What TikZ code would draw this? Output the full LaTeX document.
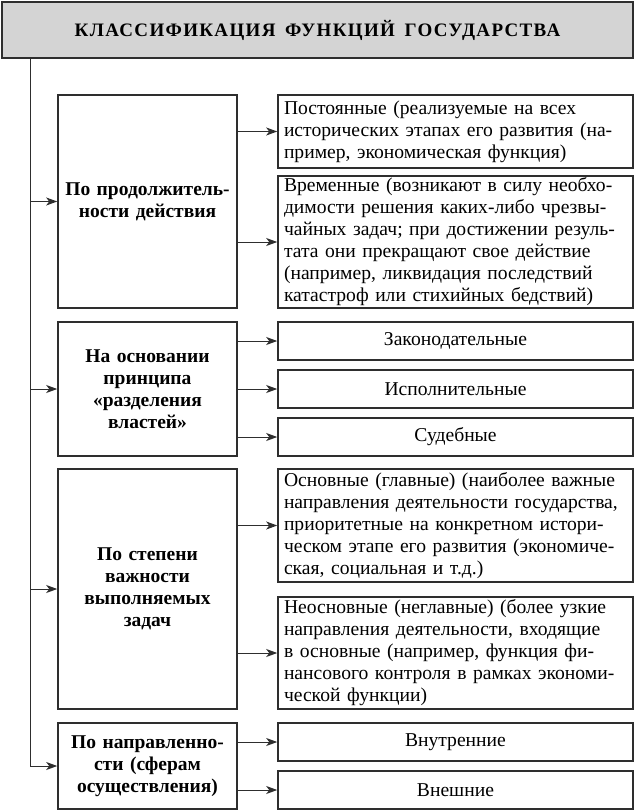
\documentclass[tikz,border=0pt]{standalone}
\usepackage{fontspec}
\setmainfont{Liberation Serif}
\newfontfamily\titlefont[LetterSpace=7,WordSpace=1.6]{Liberation Serif}
\usetikzlibrary{arrows.meta}

\definecolor{linegray}{HTML}{2E2E2E}
\definecolor{titlefill}{HTML}{D4D4D4}

\tikzset{
  titlebox/.style={draw=linegray, line width=1.6pt, fill=titlefill,
    minimum width=631pt, minimum height=56pt, inner sep=0pt,
    font=\titlefont\fontsize{19}{22}\selectfont\bfseries},
  kindbox/.style={draw=linegray, line width=1.6pt, minimum width=179pt,
    text width=165pt, inner sep=0pt, align=center,
    font=\fontsize{19.5}{22}\selectfont\bfseries},
  itembox/.style={draw=linegray, line width=1.6pt, minimum width=355pt,
    text width=343pt, inner sep=0pt, align=left,
    font=\fontsize{19.6}{22}\selectfont},
  shortbox/.style={itembox, align=center, minimum height=38pt}
}

\begin{document}
\begin{tikzpicture}[x=1pt,y=-1pt]
\useasboundingbox (0,0) rectangle (634,811);
\begin{scope}

    \node[titlebox] (T) at (317.5,30)
        {КЛАССИФИКАЦИЯ ФУНКЦИЙ ГОСУДАРСТВА};

    \node[kindbox, minimum height=213pt] (A) at (147.5,201.5)
        {По продолжитель-\\ности действия};
    \node[kindbox, minimum height=134pt] (B) at (147.5,389)
        {На основании\\принципа\\«разделения\\властей»};
    \node[kindbox, minimum height=240pt] (C) at (147.5,589)
        {По степени\\важности\\выполняемых\\задач};
    \node[kindbox, minimum height=86pt] (D) at (147.5,766)
        {По направленно-\\сти (сферам\\осуществления)};

    \node[itembox, minimum height=73pt] (A1) at (455.5,131.5)
        {Постоянные  (реализуемые на всех\\
         исторических этапах его развития (на-\\
         пример, экономическая функция)};
    \node[itembox, minimum height=132pt] (A2) at (455.5,242)
        {Временные (возникают в силу необхо-\\
         димости решения каких-либо чрезвы-\\
         чайных задач; при достижении резуль-\\
         тата они прекращают свое действие\\
         (например, ликвидация последствий\\
         катастроф или стихийных бедствий)};

    \node[shortbox] (B1) at (455.5,341) {Законодательные};
    \node[shortbox] (B2) at (455.5,389) {Исполнительные};
    \node[shortbox] (B3) at (455.5,437) {Судебные};

    \node[itembox, minimum height=113pt] (C1) at (455.5,525.5)
        {Основные (главные) (наиболее важные\\
         направления деятельности государства,\\
         приоритетные на конкретном истори-\\
         ческом этапе его развития (экономиче-\\
         ская, социальная и т.д.)};
    \node[itembox, minimum height=112pt] (C2) at (455.5,653)
        {Неосновные (неглавные) (более узкие\\
         направления деятельности, входящие\\
         в основные (например, функция фи-\\
         нансового контроля в рамках экономи-\\
         ческой функции)};

    \node[shortbox] (D1) at (455.5,742) {Внутренние};
    \node[shortbox] (D2) at (455.5,790) {Внешние};

    \coordinate (S) at (30,58);

\end{scope}

\begin{scope} [linegray, line width=1pt,
              >={Stealth[length=11pt,width=8pt,inset=3pt]}]

    \draw[->] (S) |- (D);
    \path[->] (S |- A) edge (A);
    \path[->] (S |- B) edge (B);
    \path[->] (S |- C) edge (C);

    \path[->] (A.east |- A1) edge (A1);
    \path[->] (A.east |- A2) edge (A2);
    \path[->] (B.east |- B1) edge (B1);
    \path[->] (B.east |- B2) edge (B2);
    \path[->] (B.east |- B3) edge (B3);
    \path[->] (C.east |- C1) edge (C1);
    \path[->] (C.east |- C2) edge (C2);
    \path[->] (D.east |- D1) edge (D1);
    \path[->] (D.east |- D2) edge (D2);

\end{scope}

\end{tikzpicture}
\end{document}
